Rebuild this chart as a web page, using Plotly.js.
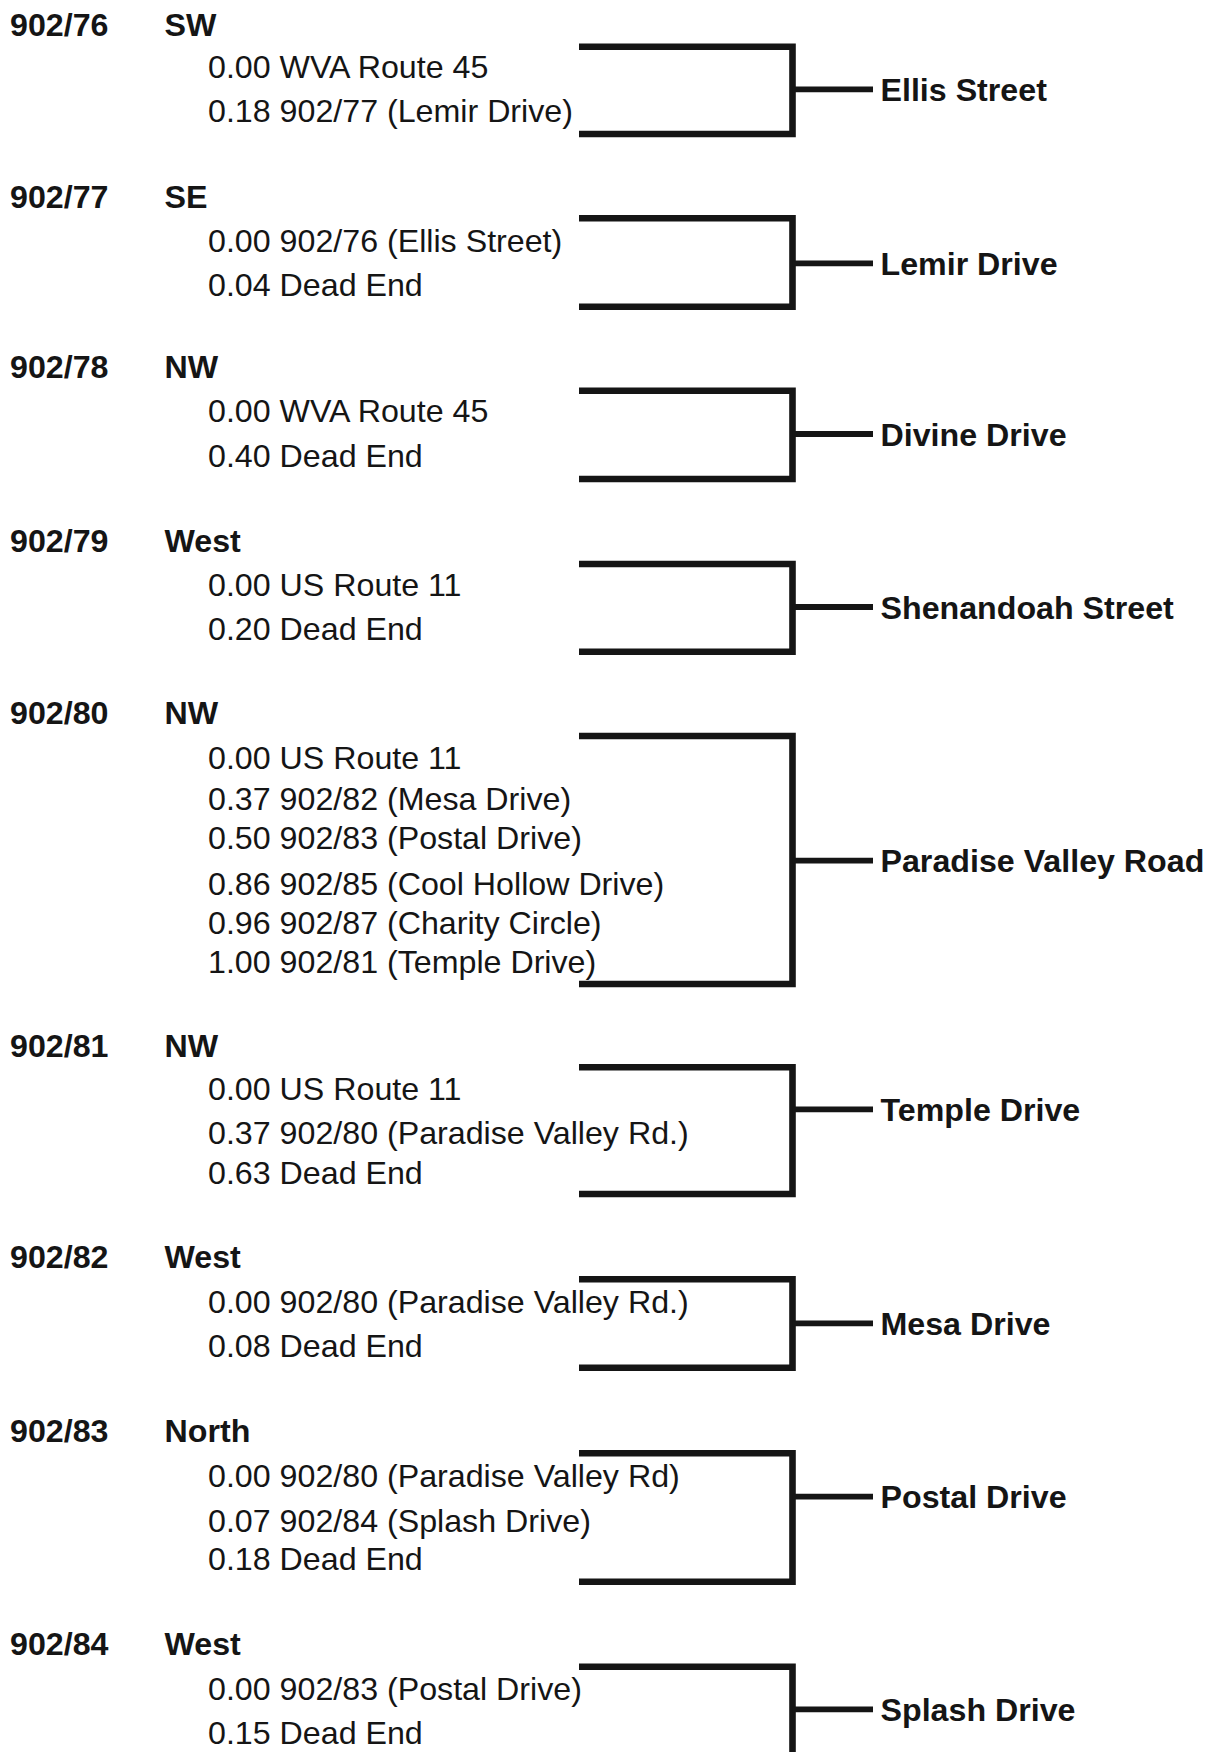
<!DOCTYPE html>
<html>
<head>
<meta charset="utf-8">
<script src="https://cdn.plot.ly/plotly-3.0.1.min.js"></script>
<style>
  html, body { margin: 0; padding: 0; background: #ffffff; }
  #chart { width: 1206px; height: 1752px; }
</style>
</head>
<body>
<div id="chart"></div>
<script>
// ---------- DATA ----------
const routes = ['902/76', '902/77', '902/78', '902/79', '902/80', '902/81', '902/82', '902/83', '902/84'];
const directions = ['SW', 'SE', 'NW', 'West', 'NW', 'NW', 'West', 'North', 'West'];
const streetNames = ['Ellis Street', 'Lemir Drive', 'Divine Drive', 'Shenandoah Street',
  'Paradise Valley Road', 'Temple Drive', 'Mesa Drive', 'Postal Drive', 'Splash Drive'];
const mileposts = [
  [0.00, 0.18],
  [0.00, 0.04],
  [0.00, 0.40],
  [0.00, 0.20],
  [0.00, 0.37, 0.50, 0.86, 0.96, 1.00],
  [0.00, 0.37, 0.63],
  [0.00, 0.08],
  [0.00, 0.07, 0.18],
  [0.00, 0.15]
];
const junctions = [
  ['WVA Route 45', '902/77 (Lemir Drive)'],
  ['902/76 (Ellis Street)', 'Dead End'],
  ['WVA Route 45', 'Dead End'],
  ['US Route 11', 'Dead End'],
  ['US Route 11', '902/82 (Mesa Drive)', '902/83 (Postal Drive)', '902/85 (Cool Hollow Drive)',
   '902/87 (Charity Circle)', '902/81 (Temple Drive)'],
  ['US Route 11', '902/80 (Paradise Valley Rd.)', 'Dead End'],
  ['902/80 (Paradise Valley Rd.)', 'Dead End'],
  ['902/80 (Paradise Valley Rd)', '902/84 (Splash Drive)', 'Dead End'],
  ['902/83 (Postal Drive)', 'Dead End']
];

// ---------- LAYOUT (page positions, px from top) ----------
const headerY = [24.5, 196, 366.5, 540.2, 712.2, 1045.5, 1256.2, 1430.2, 1643.5];
const entryY = [
  [66.7, 110.7],
  [240.7, 284],
  [410.7, 455],
  [584.5, 628],
  [757.7, 798.3, 837.3, 883.3, 922.3, 961.7],
  [1088.3, 1132.7, 1172.3],
  [1301.7, 1345],
  [1475, 1520.7, 1558.3],
  [1688.3, 1732.7]
];
const bracketTop = [46.7, 218.3, 390.7, 564, 736, 1067.3, 1279.3, 1453.3, 1666.7];
const bracketBottom = [134, 306.7, 479, 651.7, 984, 1194, 1367.7, 1581.7, 1756];
const stubY = [89.4, 263.3, 434, 607, 860.7, 1109.3, 1323.3, 1496.7, 1709.3];

const X_ROUTE = 10, X_DIR = 164.5, X_ENTRY = 208, X_BRACKET_L = 579, X_BRACKET_R = 792.5,
      X_STUB_END = 873, X_LABEL = 880.5;
const FS = 32.2;
const FONT = '"Liberation Sans", Arial, Helvetica, sans-serif';
const INK = '#151515';
// scatter text "middle" puts baseline at y+0.25em; shift so cap-height centre sits on y
const TXT_SHIFT = 0.108 * FS;

// ---------- BUILD TRACES ----------
const hdrX = [], hdrY = [], hdrT = [];
routes.forEach((r, i) => {
  hdrX.push(X_ROUTE, X_DIR);
  hdrY.push(headerY[i] + TXT_SHIFT, headerY[i] + TXT_SHIFT);
  hdrT.push(r, directions[i]);
});

const entX = [], entYv = [], entT = [];
mileposts.forEach((arr, i) => {
  arr.forEach((m, j) => {
    entX.push(X_ENTRY);
    entYv.push(entryY[i][j] + TXT_SHIFT);
    entT.push(m.toFixed(2) + ' ' + junctions[i][j]);
  });
});

const brX = [], brY = [], stX = [], stY = [];
routes.forEach((r, i) => {
  brX.push(X_BRACKET_L, X_BRACKET_R, X_BRACKET_R, X_BRACKET_L, null);
  brY.push(bracketTop[i], bracketTop[i], bracketBottom[i], bracketBottom[i], null);
  stX.push(X_BRACKET_R, X_STUB_END, null);
  stY.push(stubY[i], stubY[i], null);
});

const lblX = streetNames.map(() => X_LABEL);
const lblY = stubY.map(y => y + TXT_SHIFT);

const traces = [
  { type: 'scatter', mode: 'lines', x: brX, y: brY, hoverinfo: 'skip',
    line: { color: INK, width: 6.6 } },
  { type: 'scatter', mode: 'lines', x: stX, y: stY, hoverinfo: 'skip',
    line: { color: INK, width: 5.8 } },
  { type: 'scatter', mode: 'text', x: hdrX, y: hdrY, text: hdrT, textposition: 'middle right',
    hoverinfo: 'skip', cliponaxis: false,
    textfont: { family: FONT, size: FS, color: INK, weight: 'bold' } },
  { type: 'scatter', mode: 'text', x: entX, y: entYv, text: entT, textposition: 'middle right',
    hoverinfo: 'skip', cliponaxis: false,
    textfont: { family: FONT, size: FS, color: INK } },
  { type: 'scatter', mode: 'text', x: lblX, y: lblY, text: streetNames, textposition: 'middle right',
    hoverinfo: 'skip', cliponaxis: false,
    textfont: { family: FONT, size: FS, color: INK, weight: 'bold' } }
];

const layout = {
  width: 1206, height: 1752,
  margin: { l: 0, r: 0, t: 0, b: 0, pad: 0 },
  paper_bgcolor: '#ffffff', plot_bgcolor: '#ffffff',
  showlegend: false,
  xaxis: { range: [0, 1206], visible: false, fixedrange: true },
  yaxis: { range: [1752, 0], visible: false, fixedrange: true }
};

Plotly.newPlot('chart', traces, layout, { staticPlot: true, displayModeBar: false });
</script>
</body>
</html>
